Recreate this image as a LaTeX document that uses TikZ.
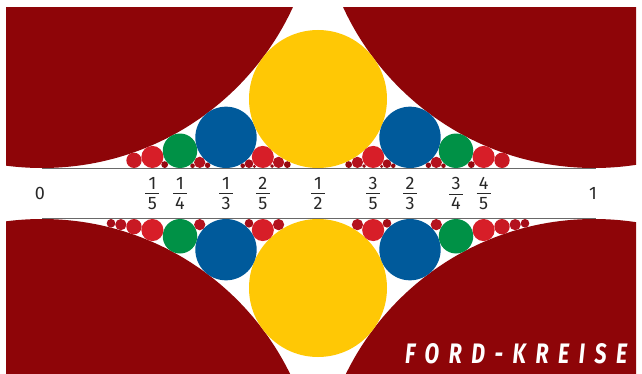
\documentclass[tikz,border=0pt]{standalone}
\usepackage{fontspec}
\usepackage{graphicx}
\setmainfont{Fira Sans}
\newfontfamily\titlefont[LetterSpace=45]{Fira Sans}
\definecolor{fordq1}{RGB}{142,5,8}
\definecolor{fordq2}{RGB}{255,200,5}
\definecolor{fordq3}{RGB}{0,90,155}
\definecolor{fordq4}{RGB}{0,145,70}
\definecolor{fordq5}{RGB}{215,30,40}
\definecolor{fordq6}{RGB}{200,25,35}
\definecolor{fordq7}{RGB}{180,18,30}
\definecolor{fordq8}{RGB}{165,12,24}
\definecolor{fordq9}{RGB}{150,8,16}
\definecolor{axisgray}{RGB}{105,105,105}
\definecolor{labelgray}{RGB}{40,40,40}
\newcommand{\fordfrac}[2]{\vbox{\hbox to 14pt{\hss#1\hss}\kern3.4pt\hrule height 1pt\kern3pt\hbox to 14pt{\hss#2\hss}}}
\tikzset{
  axisline/.style={draw=axisgray,line width=1.4pt},
  fraclabel/.style={text=labelgray,font=\fontsize{18}{20}\selectfont,inner sep=0pt},
}
\begin{document}
\begin{tikzpicture}[x=1pt,y=1pt]
\useasboundingbox (0,0) rectangle (642,373);
\begin{scope}
\clip (6,0) rectangle (636,365);
% circles of denominator 1
\fill[fordq1] (42,481) circle (276);
\fill[fordq1] (594,481) circle (276);
\fill[fordq1] (42,-122) circle (276);
\fill[fordq1] (594,-122) circle (276);
% upper row
\foreach \p/\q in {1/6,1/5,2/9,1/4,3/11,2/7,3/10,1/3,4/11,3/8,5/13,2/5,5/12,3/7,4/9,1/2,
                   5/9,4/7,7/12,3/5,8/13,5/8,7/11,2/3,7/10,5/7,8/11,3/4,7/9,4/5,5/6}{
  \pgfmathtruncatemacro\c{min(\q,9)}
  \pgfmathsetmacro\cx{42+552*\p/\q}
  \pgfmathsetmacro\r{276/(\q*\q)}
  \fill[fordq\c] (\cx,205+\r) circle (\r);
}
% lower row
\foreach \q in {2,...,8}{
  \foreach \p in {1,...,7}{
    \pgfmathtruncatemacro\ok{(\p<\q) && (gcd(\p,\q)==1)}
    \ifnum\ok=1
      \pgfmathsetmacro\cx{42+552*\p/\q}
      \pgfmathsetmacro\r{276/(\q*\q)}
      \fill[fordq\q] (\cx,154-\r) circle (\r);
    \fi
  }
}
\end{scope}
\draw[axisline] (42,204.6) -- (596,204.6);
\draw[axisline] (42,154.4) -- (596,154.4);
\node[fraclabel] (l0) at (40,180) {0};
\node[fraclabel] (l1) at (593,180) {1};
\foreach \p/\q in {1/5,1/4,1/3,2/5,1/2,3/5,2/3,3/4,4/5}
  \node[fraclabel] (l\p\q) at ({42+552*\p/\q},179.3) {\fordfrac{\p}{\q}};
\node[anchor=west,text=white,inner sep=0pt] (title) at (405,19)
  {\resizebox{222pt}{20pt}{\titlefont\bfseries\itshape FORD-KREISE}};
\end{tikzpicture}
\end{document}
